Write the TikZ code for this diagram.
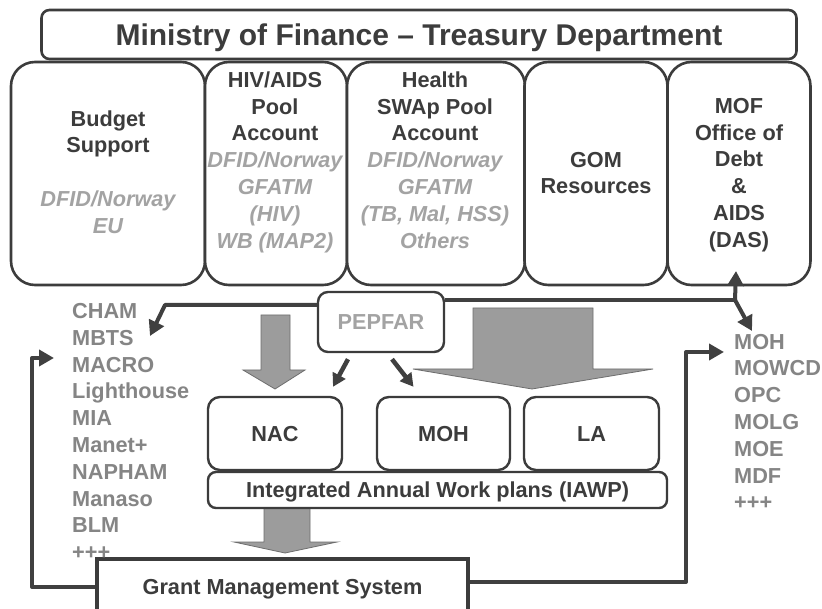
\documentclass[tikz,border=0pt]{standalone}
\usepackage{fontspec}
\setmainfont{Liberation Sans}
\usetikzlibrary{arrows.meta}

\definecolor{ink}{HTML}{3C3C3C}
\definecolor{donor}{HTML}{A3A3A3}
\definecolor{agency}{HTML}{858585}
\definecolor{flowfill}{HTML}{9C9C9C}
\definecolor{flowedge}{HTML}{6E6E6E}
\definecolor{wire}{HTML}{404040}

% donor names inside the pool boxes
\newcommand{\dn}[1]{{\color{donor}\itshape #1}}

\tikzset{
  lbl/.style={font=\fontsize{21.7pt}{26.8pt}\selectfont\bfseries, text=ink,
              align=center, inner sep=0pt},
  colbox/.style={draw=ink, fill=white, line width=2.6pt, rounded corners=24pt,
                 inner sep=0pt, minimum height=223pt},
  unitbox/.style={draw=ink, fill=white, line width=2.4pt, rounded corners=12pt,
                  inner sep=0pt, font=\fontsize{21.7pt}{26.8pt}\selectfont\bfseries,
                  text=ink, text height=15.6pt, text depth=0pt},
  bigflow/.style={fill=flowfill, draw=flowedge, line width=0.8pt},
  wire/.style={draw=wire, line width=4pt, line join=round},
  tip/.style={-{Triangle[length=15pt,width=16pt]}},
  smalltip/.style={-{Triangle[length=13pt,width=14pt]}}
}

\begin{document}
\begin{tikzpicture}[x=1pt,y=-1pt]
\clip (0,0) rectangle (822,609);
\fill[white] (0,0) rectangle (822,609);

% ---- Treasury header ----
\node[draw=ink, fill=white, line width=2.6pt, rounded corners=8pt, inner sep=0pt,
      minimum width=755pt, minimum height=49pt,
      font=\fontsize{30pt}{35pt}\selectfont\bfseries, text=ink,
      text height=21.5pt, text depth=0pt] (treasury) at (419,34.5)
      {Ministry of Finance -- Treasury Department};

% ---- funding channels ----
\node[colbox, minimum width=194pt] (budget) at (108,173.5) {};
\node[colbox, minimum width=142pt] (hivpool) at (276,173.5) {};
\node[colbox, minimum width=178pt] (swap) at (436,173.5) {};
\node[colbox, minimum width=143pt] (gom) at (596,173.5) {};
\node[colbox, minimum width=143pt] (mofdas) at (739,173.5) {};

\node[lbl] (budgetT) at (108,172) {Budget\\Support\\[26.8pt]\dn{DFID/Norway}\\\dn{EU}};
\node[lbl] (hivpoolT) at (275,162) {HIV/AIDS\\Pool\\Account\\\dn{DFID/Norway}\\\dn{GFATM}\\\dn{(HIV)}\\\dn{WB (MAP2)}};
\node[lbl] (swapT) at (435,160) {Health\\SWAp Pool\\Account\\\dn{DFID/Norway}\\\dn{GFATM}\\\dn{(TB, Mal, HSS)}\\\dn{Others}};
\node[lbl] (gomT) at (596,173) {GOM\\Resources};
\node[lbl] (mofdasT) at (739,175) {MOF\\Office of\\Debt\\\&\\AIDS\\(DAS)};

% ---- broad flow arrows ----
\path[bigflow] (261,315) -- (290,315) -- (290,370) -- (305,370) -- (275,389)
               -- (243,370) -- (261,370) -- cycle;
\path[bigflow] (473,308) -- (593,308) -- (593,369) -- (653,369) -- (532,389)
               -- (413,369) -- (473,369) -- cycle;
\path[bigflow] (264,506) -- (310,506) -- (310,542) -- (337,542) -- (285,553)
               -- (234,542) -- (264,542) -- cycle;

% ---- implementing units ----
\node[unitbox, rounded corners=8pt, minimum width=459pt, minimum height=36pt] (iawp)
      at (437.5,490) {Integrated Annual Work plans (IAWP)};
\node[unitbox, minimum width=134pt, minimum height=73pt] (nac) at (275,433.5) {NAC};
\node[unitbox, minimum width=133pt, minimum height=73pt] (moh) at (443.5,433.5) {MOH};
\node[unitbox, minimum width=135pt, minimum height=73pt] (la) at (591.5,433.5) {LA};

\node[unitbox, rounded corners=10pt, text=donor, minimum width=126pt,
      minimum height=60pt] (pepfar) at (381,322) {PEPFAR};

\node[unitbox, rounded corners=0pt, line width=3.6pt, minimum width=371pt,
      minimum height=56pt] (gms) at (282.5,587) {Grant Management System};

% ---- recipient lists ----
\node[lbl, text=agency, align=left, anchor=west] (ngos) at (72,431.5)
  {CHAM\\MBTS\\MACRO\\Lighthouse\\MIA\\Manet+\\NAPHAM\\Manaso\\BLM\\+++};
\node[lbl, text=agency, align=left, anchor=west] (govs) at (734,422)
  {MOH\\MOWCD\\OPC\\MOLG\\MOE\\MDF\\+++};

% ---- PEPFAR flows ----
\coordinate (ljoint) at (165,305);
\coordinate (ngostip) at (150,336);
\draw[wire, tip] (pepfar.west |- ljoint) -- (ljoint) -- (ngostip);

\coordinate (rjoint) at (735,300);
\coordinate (dastip) at (736,271);
\coordinate (govstip) at (752,331);
\draw[wire] (pepfar.east |- rjoint) -- (rjoint);
\draw[wire, tip] (rjoint) -- (dastip);
\draw[wire, tip] (rjoint) -- (govstip);

\draw[wire, line width=4.5pt, smalltip] ([xshift=-33pt,yshift=-6pt]pepfar.south)
      -- ([xshift=58pt,yshift=9pt]nac.north);
\draw[wire, line width=4.5pt, smalltip] ([xshift=11pt,yshift=-6pt]pepfar.south)
      -- ([xshift=-30pt,yshift=9pt]moh.north);

% ---- feedback from the grant management system ----
\coordinate (lcorner) at (32,358);
\coordinate (lfbtip) at (54,358);
\draw[wire, tip] (gms.west) -| (lcorner) -- (lfbtip);

\coordinate (rcorner) at (686,352);
\coordinate (rfbtip) at (724,352);
\draw[wire, tip] ([yshift=5pt]gms.east) -| (rcorner) -- (rfbtip);
\end{tikzpicture}
\end{document}
